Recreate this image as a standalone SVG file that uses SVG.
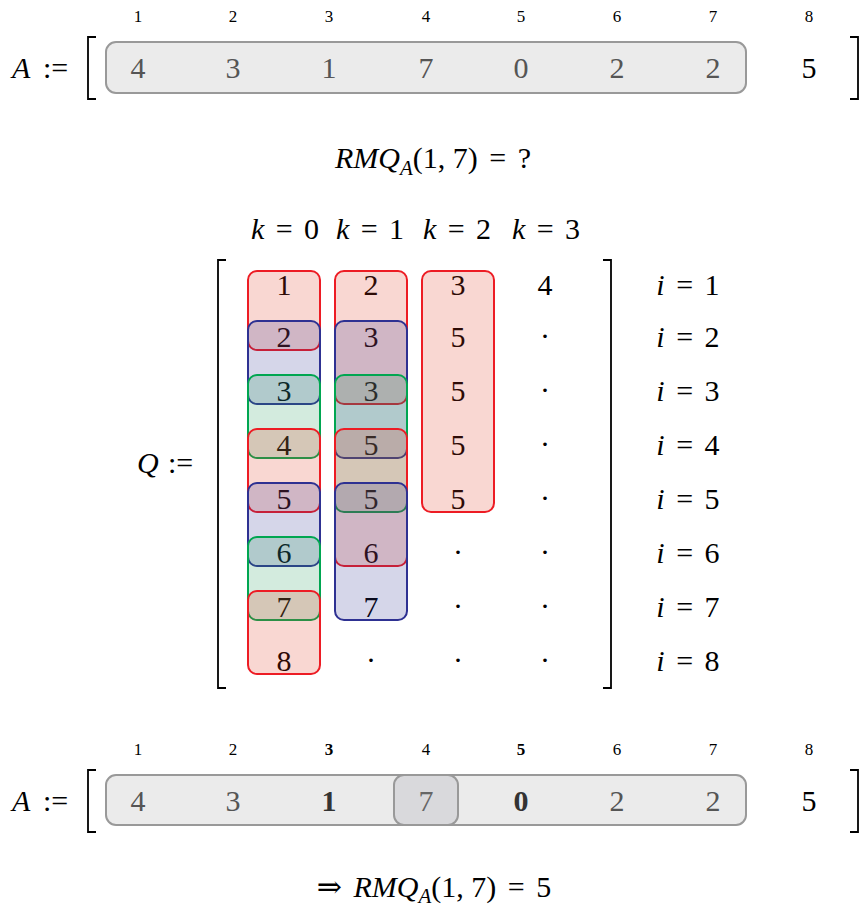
<svg xmlns="http://www.w3.org/2000/svg" width="862" height="908" viewBox="0 0 862 908">
<style>
  text { font-family: "Liberation Serif", "DejaVu Serif", serif; fill: #000; }
  .v { font-size: 30px; text-anchor: middle; }
  .idx { font-size: 17px; text-anchor: middle; }
  .in { fill: #555; }
  .bold { font-weight: bold; }
  .inb { fill: #333; font-weight: bold; }
  .it { font-style: italic; }
  .lbl { font-size: 30px; word-spacing: 4px; }
  .nows { word-spacing: 0; }
  .br { fill: none; stroke: #000; stroke-width: 1.8; }
  .arr { fill: #ebebeb; stroke: #999; stroke-width: 2; }
  .hl { fill: #d9d9dc; stroke: #999; stroke-width: 2; }
  .r { fill: #E3381C; fill-opacity: 0.2; stroke: #ED1C24; stroke-width: 2; }
  .b { fill: #2E3192; fill-opacity: 0.2; stroke: #2E3192; stroke-width: 2; }
  .g { fill: #239B5A; fill-opacity: 0.2; stroke: #00A651; stroke-width: 2; }
</style>

<g id="array-top">
  <text class="lbl" x="12" y="78"><tspan class="it">A</tspan><tspan x="43">:=</tspan></text>
  <path class="br" d="M96 37 H88 V99 H96"/>
  <path class="br" d="M850 37 H858 V99 H850"/>
  <g class="idx-row">
    <text class="idx" x="138" y="22">1</text>
    <text class="idx" x="233" y="22">2</text>
    <text class="idx" x="329" y="22">3</text>
    <text class="idx" x="426" y="22">4</text>
    <text class="idx" x="521" y="22">5</text>
    <text class="idx" x="617" y="22">6</text>
    <text class="idx" x="713" y="22">7</text>
    <text class="idx" x="809" y="22">8</text>
  </g>
  <rect class="arr" x="106" y="42" width="640" height="51" rx="10"/>
  <text class="v in" x="138" y="78">4</text>
  <text class="v in" x="233" y="78">3</text>
  <text class="v in" x="329" y="78">1</text>
  <text class="v in" x="426" y="78">7</text>
  <text class="v in" x="521" y="78">0</text>
  <text class="v in" x="617" y="78">2</text>
  <text class="v in" x="713" y="78">2</text>
  <text class="v" x="809" y="78">5</text>
</g>

<g id="query">
  <text class="lbl" x="433" y="168" text-anchor="middle"><tspan class="it">RMQ</tspan><tspan class="it" font-size="21" dy="7">A</tspan><tspan class="nows" dy="-7">(1, 7)</tspan> = ?</text>
</g>

<g id="k-labels">
  <text class="lbl" x="285" y="239" text-anchor="middle"><tspan class="it">k</tspan> = 0</text>
  <text class="lbl" x="370" y="239" text-anchor="middle"><tspan class="it">k</tspan> = 1</text>
  <text class="lbl" x="457" y="239" text-anchor="middle"><tspan class="it">k</tspan> = 2</text>
  <text class="lbl" x="546" y="239" text-anchor="middle"><tspan class="it">k</tspan> = 3</text>
</g>

<g id="Q-matrix">
  <text class="lbl" x="137" y="473"><tspan class="it">Q</tspan><tspan x="168">:=</tspan></text>
  <path class="br" d="M226 260 H218 V688 H226"/>
  <path class="br" d="M603 260 H611 V688 H603"/>

  <g id="Q-values">
    <text class="v" x="284" y="295">1</text>
    <text class="v" x="284" y="347">2</text>
    <text class="v" x="284" y="401">3</text>
    <text class="v" x="284" y="455">4</text>
    <text class="v" x="284" y="509">5</text>
    <text class="v" x="284" y="563">6</text>
    <text class="v" x="284" y="617">7</text>
    <text class="v" x="284" y="671">8</text>

    <text class="v" x="371" y="295">2</text>
    <text class="v" x="371" y="347">3</text>
    <text class="v" x="371" y="401">3</text>
    <text class="v" x="371" y="455">5</text>
    <text class="v" x="371" y="509">5</text>
    <text class="v" x="371" y="563">6</text>
    <text class="v" x="371" y="617">7</text>
    <text class="v" x="371" y="670">·</text>

    <text class="v" x="458" y="295">3</text>
    <text class="v" x="458" y="347">5</text>
    <text class="v" x="458" y="401">5</text>
    <text class="v" x="458" y="455">5</text>
    <text class="v" x="458" y="509">5</text>
    <text class="v" x="458" y="562">·</text>
    <text class="v" x="458" y="616">·</text>
    <text class="v" x="458" y="670">·</text>

    <text class="v" x="545" y="295">4</text>
    <text class="v" x="545" y="346">·</text>
    <text class="v" x="545" y="400">·</text>
    <text class="v" x="545" y="454">·</text>
    <text class="v" x="545" y="508">·</text>
    <text class="v" x="545" y="562">·</text>
    <text class="v" x="545" y="616">·</text>
    <text class="v" x="545" y="670">·</text>
  </g>

  <g id="Q-col-k0">
    <rect class="r" x="248" y="271" width="72" height="79" rx="9"/>
    <rect class="b" x="248" y="321" width="72" height="83" rx="9"/>
    <rect class="g" x="248" y="375" width="72" height="83" rx="9"/>
    <rect class="r" x="248" y="429" width="72" height="83" rx="9"/>
    <rect class="b" x="248" y="483" width="72" height="83" rx="9"/>
    <rect class="g" x="248" y="537" width="72" height="83" rx="9"/>
    <rect class="r" x="248" y="591" width="72" height="83" rx="9"/>
  </g>
  <g id="Q-col-k1">
    <rect class="r" x="335" y="271" width="72" height="133" rx="9"/>
    <rect class="b" x="335" y="321" width="72" height="137" rx="9"/>
    <rect class="g" x="335" y="375" width="72" height="137" rx="9"/>
    <rect class="r" x="335" y="429" width="72" height="137" rx="9"/>
    <rect class="b" x="335" y="483" width="72" height="137" rx="9"/>
  </g>
  <g id="Q-col-k2">
    <rect class="r" x="422" y="271" width="72" height="241" rx="9"/>
  </g>
</g>

<g id="i-labels">
  <text class="lbl" x="688" y="295" text-anchor="middle"><tspan class="it">i</tspan> = 1</text>
  <text class="lbl" x="688" y="347" text-anchor="middle"><tspan class="it">i</tspan> = 2</text>
  <text class="lbl" x="688" y="401" text-anchor="middle"><tspan class="it">i</tspan> = 3</text>
  <text class="lbl" x="688" y="455" text-anchor="middle"><tspan class="it">i</tspan> = 4</text>
  <text class="lbl" x="688" y="509" text-anchor="middle"><tspan class="it">i</tspan> = 5</text>
  <text class="lbl" x="688" y="563" text-anchor="middle"><tspan class="it">i</tspan> = 6</text>
  <text class="lbl" x="688" y="617" text-anchor="middle"><tspan class="it">i</tspan> = 7</text>
  <text class="lbl" x="688" y="671" text-anchor="middle"><tspan class="it">i</tspan> = 8</text>
</g>

<g id="array-bottom">
  <text class="lbl" x="12" y="811"><tspan class="it">A</tspan><tspan x="43">:=</tspan></text>
  <path class="br" d="M96 770 H88 V832 H96"/>
  <path class="br" d="M850 770 H858 V832 H850"/>
  <g class="idx-row">
    <text class="idx" x="138" y="755">1</text>
    <text class="idx" x="233" y="755">2</text>
    <text class="idx bold" x="329" y="755">3</text>
    <text class="idx" x="426" y="755">4</text>
    <text class="idx bold" x="521" y="755">5</text>
    <text class="idx" x="617" y="755">6</text>
    <text class="idx" x="713" y="755">7</text>
    <text class="idx" x="809" y="755">8</text>
  </g>
  <rect class="arr" x="106" y="775" width="640" height="50" rx="10"/>
  <rect id="highlight-4" class="hl" x="394" y="775" width="64" height="50" rx="10"/>
  <text class="v in" x="138" y="811">4</text>
  <text class="v in" x="233" y="811">3</text>
  <text class="v inb" x="329" y="811">1</text>
  <text class="v" x="426" y="811" style="fill:#666">7</text>
  <text class="v inb" x="521" y="811">0</text>
  <text class="v in" x="617" y="811">2</text>
  <text class="v in" x="713" y="811">2</text>
  <text class="v" x="809" y="811">5</text>
</g>

<g id="result">
  <text class="lbl" x="434" y="897" text-anchor="middle">⇒ <tspan class="it">RMQ</tspan><tspan class="it" font-size="21" dy="6">A</tspan><tspan class="nows" dy="-6">(1, 7)</tspan> = 5</text>
</g>
</svg>
